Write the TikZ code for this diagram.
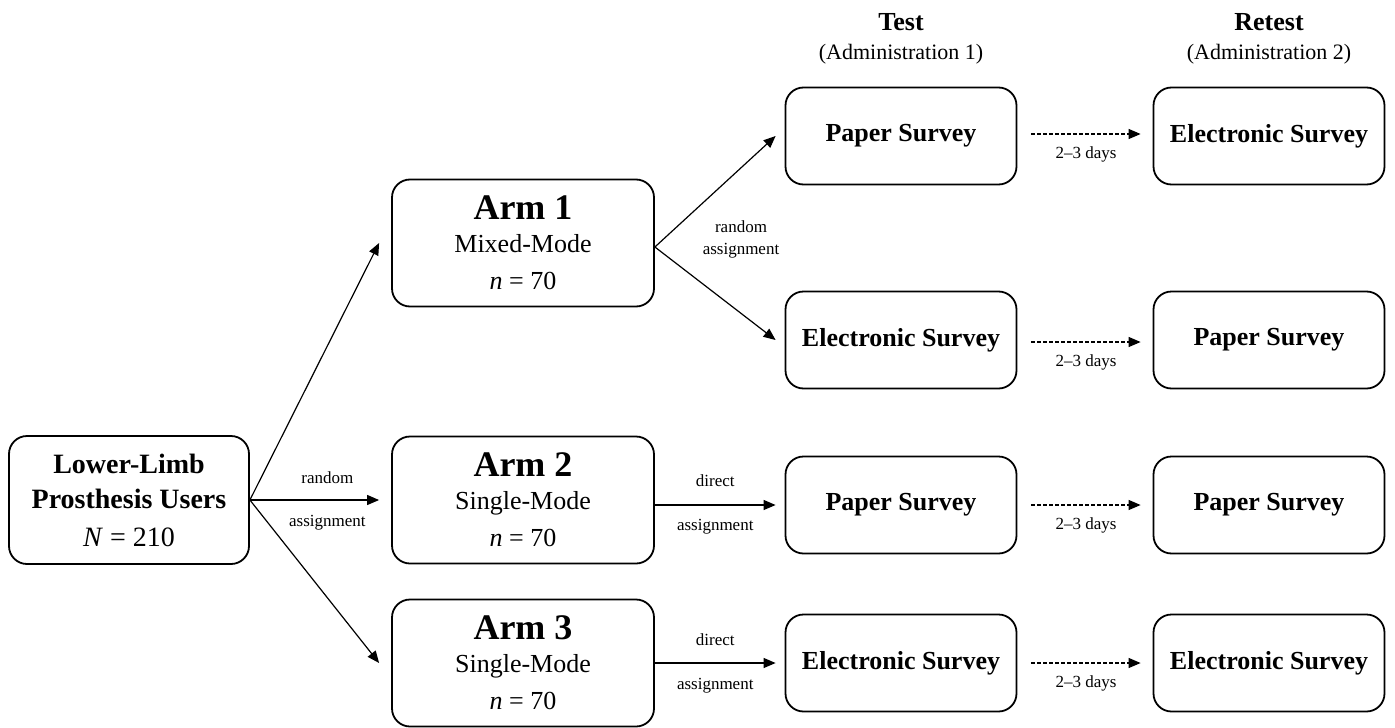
\documentclass[tikz,border=0pt]{standalone}
\usepackage{fontspec}
\setmainfont{Liberation Serif}
\usetikzlibrary{arrows.meta}
\begin{document}
\begin{tikzpicture}[x=1pt,y=-1pt,
  box/.style={draw, line width=1.8pt, rounded corners=18pt, fill=white, align=center, inner sep=0pt},
  armbox/.style={box, minimum width=262pt, minimum height=127pt, font=\fontsize{26}{35}\selectfont},
  mainbox/.style={box, minimum width=240pt, minimum height=128pt, font=\fontsize{28}{36}\selectfont},
  svbox/.style={box, minimum width=231pt, minimum height=97pt, font=\fontsize{26}{30}\selectfont\bfseries},
  arr/.style={-{Triangle[length=12pt,width=10pt]}, line width=1.2pt},
  darr/.style={-{Triangle[length=12pt,width=10pt]}, line width=1.1pt, dash pattern=on 3.5pt off 2.5pt},
  lab/.style={font=\fontsize{17}{19}\selectfont, inner sep=0pt},
  hdr/.style={font=\fontsize{26}{30}\selectfont\bfseries, inner sep=0pt},
  sub/.style={font=\fontsize{22}{26}\selectfont, inner sep=0pt}
]
\useasboundingbox (0,0) rectangle (1395,728);
\fill[white] (0,0) rectangle (1395,728);

% headers
\node[hdr] (hT) at (901,22) {Test};
\node[sub] (hA1) at (901,54) {(Administration 1)};
\node[hdr] (hR) at (1269,22) {Retest};
\node[sub] (hA2) at (1269,54) {(Administration 2)};

% main box
\node[mainbox] (main) at (129,500)
  {\bfseries Lower-Limb\\[-1pt]
   \bfseries Prosthesis Users\\[2pt]
   \textit{N} = 210};

% arms
\node[armbox] (arm1) at (523,243)
  {\fontsize{36}{35}\selectfont\bfseries Arm 1\\[-2pt]
   Mixed-Mode\\[2pt]
   \textit{n} = 70};
\node[armbox] (arm2) at (523,500)
  {\fontsize{36}{35}\selectfont\bfseries Arm 2\\[-2pt]
   Single-Mode\\[2pt]
   \textit{n} = 70};
\node[armbox] (arm3) at (523,663)
  {\fontsize{36}{35}\selectfont\bfseries Arm 3\\[-2pt]
   Single-Mode\\[2pt]
   \textit{n} = 70};

% test column
\node[svbox] (t1) at (901,136) {Paper Survey};
\node[svbox] (t2) at (901,340) {Electronic Survey};
\node[svbox] (t3) at (901,505) {Paper Survey};
\node[svbox] (t4) at (901,663) {Electronic Survey};

% retest column
\node[svbox] (r1) at (1269,136) {Electronic Survey};
\node[svbox] (r2) at (1269,340) {Paper Survey};
\node[svbox] (r3) at (1269,505) {Paper Survey};
\node[svbox] (r4) at (1269,663) {Electronic Survey};

% main to arms
\draw[arr] (main.east) -- ([xshift=-12pt]arm1.west);
\draw[arr] (main.east) -- node[lab, pos=0.6, yshift=22pt] (l1) {random}
  node[lab, pos=0.6, yshift=-23pt] (l2) {assignment} ([xshift=-12pt]arm2.west);
\draw[arr] (main.east) -- ([xshift=-12pt]arm3.west);

% arm1 random
\draw[arr] ([yshift=-4pt]arm1.east) -- ([xshift=-9pt]t1.west);
\draw[arr] ([yshift=-4pt]arm1.east) -- ([xshift=-9pt]t2.west);
\node[lab, align=center, font=\fontsize{17}{22}\selectfont] (l3) at (741,239) {random\\assignment};

% arm2/arm3 direct
\draw[arr] (arm2.east |- t3.west) -- node[lab, yshift=24pt] (l4) {direct}
  node[lab, yshift=-22pt] (l5) {assignment} ([xshift=-9pt]t3.west);
\draw[arr] (arm3.east |- t4.west) -- node[lab, yshift=23pt] (l6) {direct}
  node[lab, yshift=-23pt] (l7) {assignment} ([xshift=-9pt]t4.west);

% dashed test -> retest
\draw[darr] ([xshift=14pt,yshift=2pt]t1.east) -- node[lab, yshift=-20pt] (d1) {2–3 days} ([xshift=-12pt,yshift=2pt]r1.west);
\draw[darr] ([xshift=14pt,yshift=-2pt]t2.east) -- node[lab, yshift=-20pt] (d2) {2–3 days} ([xshift=-12pt,yshift=-2pt]r2.west);
\draw[darr] ([xshift=14pt]t3.east) -- node[lab, yshift=-20pt] (d3) {2–3 days} ([xshift=-12pt]r3.west);
\draw[darr] ([xshift=14pt]t4.east) -- node[lab, yshift=-20pt] (d4) {2–3 days} ([xshift=-12pt]r4.west);
\end{tikzpicture}
\end{document}
